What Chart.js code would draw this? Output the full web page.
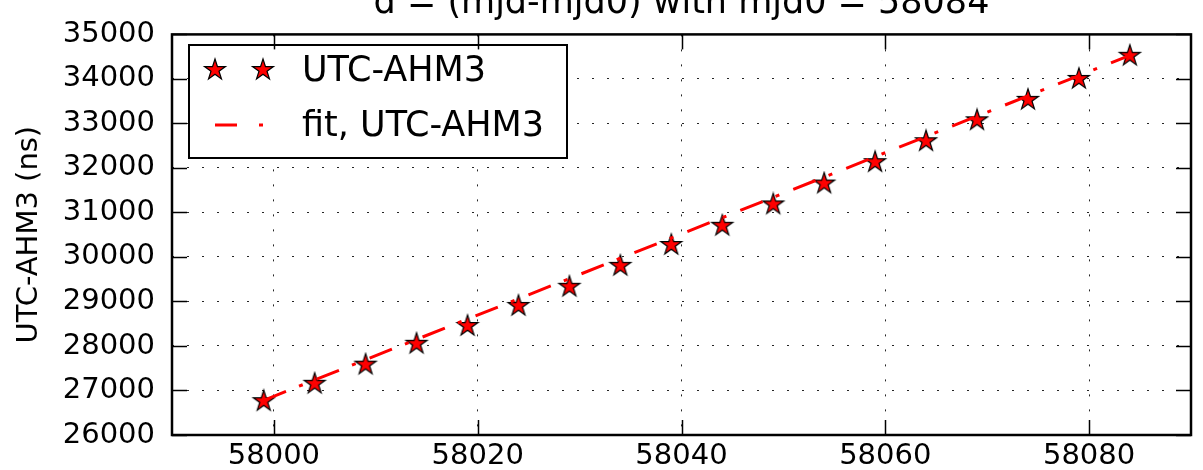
<!DOCTYPE html>
<html>
<head>
<meta charset="utf-8">
<script src="https://cdn.jsdelivr.net/npm/chart.js@4.4.1/dist/chart.umd.min.js"></script>
<style>
html, body { margin: 0; padding: 0; background: #fff; }
</style>
</head>
<body>
<canvas id="myChart" width="1203" height="470"></canvas>
<script>
// data
var mjd = [57999, 58004, 58009, 58014, 58019, 58024, 58029, 58034, 58039,
           58044, 58049, 58054, 58059, 58064, 58069, 58074, 58079, 58084];
var utcAhm3 = [26760, 27150, 27580, 28050, 28450, 28900, 29330, 29800, 30270,
               30700, 31180, 31650, 32130, 32600, 33070, 33530, 34000, 34520];
var fitMjd = [57999, 58084];
var fitUtcAhm3 = [26780, 34530];
var xTicks = [58000, 58020, 58040, 58060, 58080];
var yTicks = [26000, 27000, 28000, 29000, 30000, 31000, 32000, 33000, 34000, 35000];
var titleText = 'd = (mjd-mjd0) with mjd0 = 58084';
var yTitle = 'UTC-AHM3 (ns)';
var legendLabels = ['UTC-AHM3', 'fit, UTC-AHM3'];

var FONT = 'DejaVu Sans, sans-serif';
var fitDash = [24, 14, 4, 15];

// filled star like matplotlib's '*' marker
function makeStar(r) {
    var c = document.createElement('canvas');
    var s = Math.ceil(r * 2 + 4);
    c.width = s; c.height = s;
    var g = c.getContext('2d');
    g.beginPath();
    for (var i = 0; i < 10; i++) {
        var rr = i % 2 === 0 ? r : r * 0.382;
        var a = -Math.PI / 2 + i * Math.PI / 5;
        var px = s / 2 + rr * Math.cos(a), py = s / 2 + rr * Math.sin(a);
        if (i === 0) g.moveTo(px, py); else g.lineTo(px, py);
    }
    g.closePath();
    g.fillStyle = '#ff0000';
    g.fill();
    g.lineWidth = 1.2;
    g.strokeStyle = '#000';
    g.stroke();
    return c;
}
var star = makeStar(11);

function line(ctx, x1, y1, x2, y2) {
    ctx.beginPath();
    ctx.moveTo(x1, y1);
    ctx.lineTo(x2, y2);
    ctx.stroke();
}

// frame, inward ticks, legend box and title
var decor = {
    id: 'decor',
    beforeDraw: function(chart) {
        var ctx = chart.ctx;
        ctx.save();
        ctx.fillStyle = '#fff';
        ctx.fillRect(0, 0, chart.width, chart.height);
        ctx.restore();
    },
    afterDraw: function(chart) {
        var ctx = chart.ctx, a = chart.chartArea;
        var xs = chart.scales.x, ys = chart.scales.y;
        ctx.save();

        // legend
        var lx = 189, ly = 45, lw = 378, lh = 113;
        ctx.fillStyle = '#fff';
        ctx.fillRect(lx, ly, lw, lh);
        ctx.strokeStyle = '#000';
        ctx.lineWidth = 2;
        ctx.strokeRect(lx, ly, lw, lh);
        ctx.drawImage(star, 215 - star.width / 2, 70 - star.height / 2);
        ctx.drawImage(star, 263 - star.width / 2, 70 - star.height / 2);
        ctx.strokeStyle = '#ff0000';
        ctx.lineWidth = 3;
        ctx.setLineDash([22, 22, 4, 22]);
        line(ctx, 215, 125, 263, 125);
        ctx.setLineDash([]);
        ctx.fillStyle = '#000';
        ctx.font = '35px ' + FONT;
        ctx.textBaseline = 'middle';
        ctx.textAlign = 'left';
        ctx.fillText(legendLabels[0], 302, 72);
        ctx.fillText(legendLabels[1], 302, 127);

        // ticks inside on all four sides
        ctx.strokeStyle = '#000';
        ctx.lineWidth = 1.5;
        xTicks.forEach(function(v) {
            var px = Math.round(xs.getPixelForValue(v)) + 0.5;
            line(ctx, px, a.bottom, px, a.bottom - 15);
            line(ctx, px, a.top, px, a.top + 15);
        });
        yTicks.forEach(function(v) {
            var py = Math.round(ys.getPixelForValue(v)) + 0.5;
            line(ctx, a.left, py, a.left + 15, py);
            line(ctx, a.right, py, a.right - 15, py);
        });

        // axes frame
        ctx.lineWidth = 2.5;
        ctx.strokeRect(a.left, a.top, a.right - a.left, a.bottom - a.top);

        // title, clipped by the top of the picture
        ctx.font = '35px ' + FONT;
        ctx.textAlign = 'center';
        ctx.textBaseline = 'alphabetic';
        ctx.fillText(titleText, (a.left + a.right) / 2, 13);
        ctx.restore();
    }
};

var ctx = document.getElementById('myChart').getContext('2d');

var myChart = new Chart(ctx, {
    type: 'scatter',
    data: {
        datasets: [{
            label: legendLabels[1],
            data: fitMjd.map(function(x, i) { return {x: x, y: fitUtcAhm3[i]}; }),
            showLine: true,
            borderColor: '#ff0000',
            borderWidth: 3,
            borderDash: fitDash,
            pointRadius: 0,
            order: 0
        }, {
            label: legendLabels[0],
            data: mjd.map(function(x, i) { return {x: x, y: utcAhm3[i]}; }),
            showLine: false,
            pointStyle: star,
            pointRadius: 11,
            order: 1
        }]
    },
    options: {
        responsive: false,
        animation: false,
        devicePixelRatio: 1,
        layout: { padding: { top: 24, right: 1, left: 0, bottom: 0 } },
        plugins: {
            legend: { display: false },
            tooltip: { enabled: false },
            title: { display: false }
        },
        scales: {
            x: {
                type: 'linear',
                min: 57990,
                max: 58090,
                afterBuildTicks: function(s) { s.ticks = xTicks.map(function(v) { return {value: v}; }); },
                afterFit: function(s) { s.height = 35; },
                ticks: {
                    color: '#000',
                    font: { family: FONT, size: 29 },
                    padding: 4,
                    maxRotation: 0,
                    autoSkip: false,
                    callback: function(v) { return String(v); }
                },
                grid: { color: 'rgba(0,0,0,0.85)', lineWidth: 1, drawTicks: false },
                border: { display: false, dash: [2, 13] }
            },
            y: {
                type: 'linear',
                min: 26000,
                max: 35000,
                afterBuildTicks: function(s) { s.ticks = yTicks.map(function(v) { return {value: v}; }); },
                afterFit: function(s) { s.width = 172; },
                ticks: {
                    color: '#000',
                    font: { family: FONT, size: 29 },
                    padding: 17,
                    autoSkip: false,
                    callback: function(v) { return String(v); }
                },
                title: {
                    display: true,
                    text: yTitle,
                    color: '#000',
                    font: { family: FONT, size: 29 },
                    padding: { top: 12, bottom: 0 }
                },
                grid: { color: 'rgba(0,0,0,0.85)', lineWidth: 1, drawTicks: false },
                border: { display: false, dash: [2, 13] }
            }
        }
    },
    plugins: [decor]
});
</script>
</body>
</html>
